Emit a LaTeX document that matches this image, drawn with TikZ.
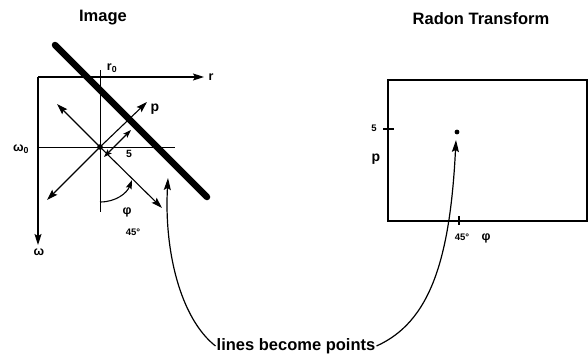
\documentclass[tikz,border=0pt]{standalone}
\usepackage{fontspec}
\setmainfont{Liberation Sans}
\usetikzlibrary{arrows.meta}
\begin{document}
\begin{tikzpicture}[x=1pt,y=-1pt,
  ln/.style={line width=1.1pt},
  arr/.style={ln,-{Stealth[length=11pt,width=7pt,inset=2pt]}},
  darr/.style={ln,{Stealth[length=8pt,width=5.5pt,inset=1.5pt]}-{Stealth[length=8pt,width=5.5pt,inset=1.5pt]}},
  title/.style={font=\bfseries\fontsize{16.5}{19}\selectfont},
  lbl/.style={font=\bfseries\fontsize{12.5}{14}\selectfont, inner sep=0pt},
  small/.style={font=\bfseries\fontsize{9.5}{11}\selectfont, inner sep=0pt},
  curvearr/.style={line width=1.2pt,-{Stealth[length=12pt,width=7pt,inset=2pt]}}
]
\useasboundingbox (0,0) rectangle (588,356);

% ---------- titles
\node[title] (timg) at (103,18) {Image};
\node[title] (trad) at (481,19) {Radon Transform};

% ---------- image part
\coordinate (O) at (38,77);
\coordinate (rend) at (204,77);
\coordinate (wend) at (38,245);
\coordinate (c) at (100,147);
\coordinate (vtop) at (100,70);
\coordinate (vbot) at (100,212);
\coordinate (hend) at (175,147);

\draw[arr] (O) -- (rend);
\draw[arr] (O) -- (wend);
\draw[line width=0.7pt] (vtop) -- (vbot);
\draw[line width=0.8pt] (O |- c) -- (hend);

\node[lbl] (lr) at (211,77) {r};
\node[lbl] (lw) at (39,252) {ω};
\node[lbl] (lr0) at (112,68) {r\textsubscript{0}};
\node[lbl] (lw0) at (21,149) {ω\textsubscript{0}};

% thick line
\coordinate (L1) at (55,45);
\coordinate (L2) at (207,197);
\draw[line width=6.5pt,line cap=round] (L1) -- (L2);

% diagonal arrows
\coordinate (ne) at (147,102);
\coordinate (nw) at (57,104);
\coordinate (sw) at (47,200);
\coordinate (se) at (162,208);
\draw[arr] (c) -- (ne);
\draw[arr] (c) -- (nw);
\draw[arr] (c) -- (sw);
\draw[arr] (c) -- (se);
\fill (c) circle (2.8pt);
\node[font=\bfseries\fontsize{14}{16}\selectfont, inner sep=0pt] (lp) at (155,109) {p};

% distance double arrow
\coordinate (d1) at (104,157);
\coordinate (d2) at (131,130);
\draw[darr] (d1) -- (d2);
\node[font=\bfseries\fontsize{10.5}{12}\selectfont, inner sep=0pt] (l5) at (129,154) {5};

% angle arc
\coordinate (a1) at (100,202);
\coordinate (a2) at (132,180);
\draw[ln,-{Stealth[length=9pt,width=6pt,inset=1.5pt]}] (a1) .. controls (116,202) and (127,193) .. (a2);
\node[lbl] (lphi) at (127,212) {φ};
\node[small] (l45) at (133,232) {45°};

% ---------- radon part
\coordinate (B1) at (388,80);
\coordinate (B2) at (587,221);
\draw[line width=1.3pt] (B1) rectangle (B2);
\coordinate (t5a) at (383,129);
\coordinate (t5b) at (394,129);
\draw[line width=1.1pt] (t5a) -- (t5b);
\node[small] (r5) at (374,128) {5};
\node[font=\bfseries\fontsize{14}{16}\selectfont, inner sep=0pt] (rp) at (376,159) {p};
\coordinate (pt) at (457,132);
\fill (pt) circle (2.4pt);
\coordinate (t45a) at (459,216);
\coordinate (t45b) at (459,225);
\draw[line width=1.1pt] (t45a) -- (t45b);
\node[small] (r45) at (462,237) {45°};
\node[lbl] (rphi) at (486,238) {φ};

% ---------- caption and curved arrows
\node[title, inner sep=1pt] (cap) at (296,346) {lines become points};
\coordinate (tipL) at (168,178);
\coordinate (tipR) at (456,140);
\draw[curvearr] (cap.west) .. controls (180,318) and (164,250) .. (tipL);
\draw[curvearr] (cap.east) .. controls (430,322) and (450,260) .. (tipR);
\end{tikzpicture}
\end{document}
